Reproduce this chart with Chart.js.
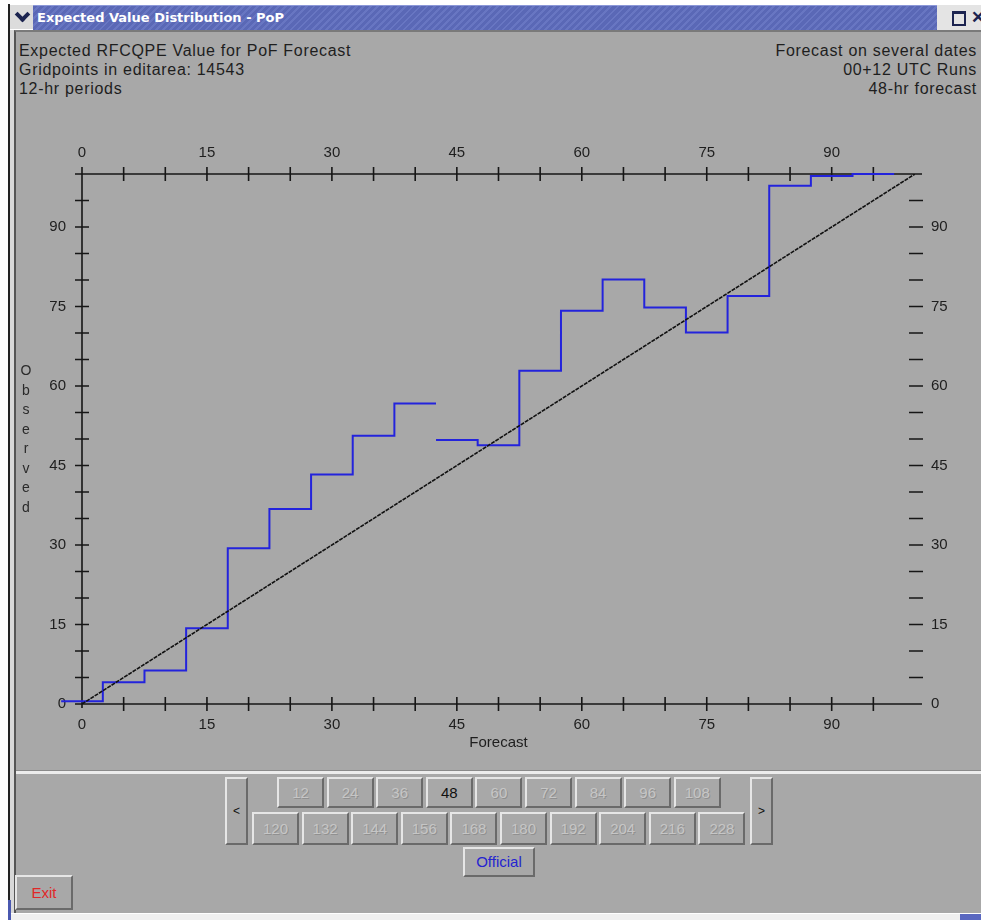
<!DOCTYPE html>
<html>
<head>
<meta charset="utf-8">
<script src="https://cdn.jsdelivr.net/npm/chart.js@4.4.1/dist/chart.umd.min.js"></script>
<style>
  html, body { margin: 0; padding: 0; background: #fff; }
  body { width: 981px; height: 920px; position: relative; overflow: hidden; font-family: "Liberation Sans", Arial, sans-serif; }
  .abs { position: absolute; }
  #frameLine { left: 8px; top: 4px; width: 2px; height: 912px; background: #222; }
  #chev { left: 10px; top: 5px; width: 23px; height: 24px; background: #dcdcdc; }
  #chev i { position: absolute; left: 7px; top: 4px; width: 7px; height: 7px; border-right: 4px solid #1c2450; border-bottom: 4px solid #1c2450; transform: rotate(45deg); }
  #titlebar { left: 33px; top: 5px; width: 904px; height: 24px;
    background: repeating-linear-gradient(135deg, #5a68b6 0px, #5a68b6 3px, #6876c2 3px, #6876c2 5px);
    border-top: 1px solid #8c98d8; }
  #titlebar span { position: absolute; left: 4px; top: 4px; color: #fff; font-family: "DejaVu Sans", sans-serif; font-weight: bold; font-size: 13px; }
  #icons { left: 937px; top: 5px; width: 44px; height: 25px; background: #e4e4e4; }
  #icons .box { position: absolute; left: 15px; top: 6px; width: 10px; height: 10px; border: 2px solid #1c2450; border-top-width: 3px; }
  #icons .x { position: absolute; left: 34px; top: 2px; font-size: 17px; font-weight: bold; color: #1c2450; }
  #panel { left: 14px; top: 30px; width: 967px; height: 884px; background: #a8a8a8; border-left: 2px solid #555; border-top: 2px solid #7a7a7a; }
  #strip { left: 10px; top: 30px; width: 4px; height: 884px; background: #d8d8d8; }
  #sep { left: 16px; top: 770px; width: 965px; height: 3px; background: #ececec; border-top: 1px solid #8a8a8a; }
  #bottomEdge { left: 10px; top: 913px; width: 971px; height: 7px; background: #f0f0f0; border-top: 1px solid #fff; }
  #cornerL { left: 8px; top: 900px; width: 30px; height: 20px; border-left: 3px solid #4a58b0; border-bottom: 3px solid #4a58b0; }
  #cornerR { left: 960px; top: 914px; width: 21px; height: 6px; background: #5a68c0; }
  .hdr { font-size: 16px; color: #1e1e1e; line-height: 19px; letter-spacing: 0.7px; }
  #hdrL { left: 19px; top: 41px; }
  #hdrR { right: 4px; top: 41px; text-align: right; }
  #chartBox { left: 0; top: 110px; width: 981px; height: 650px; }
  #ylab { left: 17px; top: 361px; width: 18px; text-align: center; font-size: 14px; line-height: 19.5px; color: #2a2a2a; }
  .btn { position: absolute; box-sizing: border-box; background: #a8a8a8; border: 2px solid; border-color: #e6e6e6 #6a6a6a #6a6a6a #e6e6e6;
    font-size: 15px; text-align: center; color: #c6c6c6; text-shadow: 1px 1px 0 #909090; }
  .btn.on { color: #111; text-shadow: none; }
</style>
</head>
<body>
<div class="abs" id="strip"></div>
<div class="abs" id="panel"></div>
<div class="abs" id="frameLine"></div>
<div class="abs" id="chev"><i></i></div>
<div class="abs" id="titlebar"><span>Expected Value Distribution - PoP</span></div>
<div class="abs" id="icons"><div class="box"></div><div class="x">&#x2715;</div></div>
<div class="abs hdr" id="hdrL">Expected RFCQPE Value for PoF Forecast<br>Gridpoints in editarea: 14543<br>12-hr periods</div>
<div class="abs hdr" id="hdrR">Forecast on several dates<br>00+12 UTC Runs<br>48-hr forecast</div>
<div class="abs" id="chartBox"><canvas id="evChart" width="981" height="650"></canvas></div>
<div class="abs" id="ylab">O<br>b<br>s<br>e<br>r<br>v<br>e<br>d</div>
<div class="abs" id="sep"></div>
<div id="buttons"></div>
<div class="abs" id="bottomEdge"></div>
<div class="abs" id="cornerL"></div>
<div class="abs" id="cornerR"></div>

<script>
const binCenters = [0, 5, 10, 15, 20, 25, 30, 35, 40, 45, 50, 55, 60, 65, 70, 75, 80, 85, 90, 95];
const observed = [0.5, 4.1, 6.3, 14.3, 29.4, 36.8, 43.3, 50.6, 56.7, 49.8, 48.8, 62.9, 74.2, 80.1, 74.8, 70.1, 77.0, 97.8, 99.6, 100];
const binWidth = 5;
const breakAfter = [40];   // no connector drawn after this bin
const perfectX = [0, 100];
const perfectY = [0, 100];
const xTicks = [0, 15, 30, 45, 60, 75, 90];
const yTicks = [0, 15, 30, 45, 60, 75, 90];
const minorStep = 5;

const periodsRow1 = ['12', '24', '36', '48', '60', '72', '84', '96', '108'];
const periodsRow2 = ['120', '132', '144', '156', '168', '180', '192', '204', '216', '228'];
const activePeriod = '48';

// build the step outline
const stepPoints = [];
binCenters.forEach((c, i) => {
  stepPoints.push({ x: c - binWidth / 2, y: observed[i] });
  stepPoints.push({ x: c + binWidth / 2, y: observed[i] });
  if (breakAfter.includes(c)) stepPoints.push({ x: c + binWidth / 2, y: null });
});

const axesPlugin = {
  id: 'evdAxes',
  beforeDatasetsDraw(chart) {
    const { ctx } = chart;
    const x = chart.scales.x, y = chart.scales.y;
    const l = x.getPixelForValue(0), r = x.getPixelForValue(100);
    const t = y.getPixelForValue(100), b = y.getPixelForValue(0);
    const k = 7;
    ctx.save();
    ctx.strokeStyle = '#161616';
    ctx.lineWidth = 1.6;
    ctx.beginPath();
    ctx.moveTo(l - k, t); ctx.lineTo(r + k, t);
    ctx.moveTo(l - k, b); ctx.lineTo(r + k, b);
    ctx.moveTo(l, t - k); ctx.lineTo(l, b + 4);
    for (let v = minorStep; v < 100; v += minorStep) {
      const px = x.getPixelForValue(v);
      const py = y.getPixelForValue(v);
      ctx.moveTo(px, t - k); ctx.lineTo(px, t + k);
      ctx.moveTo(px, b - k); ctx.lineTo(px, b + k);
      ctx.moveTo(l - k, py); ctx.lineTo(l + k, py);
      ctx.moveTo(r - 6, py); ctx.lineTo(r + 8, py);
    }
    ctx.stroke();
    ctx.restore();
  }
};

function fixSize(w, h) {
  return (scale) => {
    if (w != null) scale.width = w;
    if (h != null) scale.height = h;
  };
}

const tickFont = { family: '"Liberation Sans", Arial, sans-serif', size: 15 };

new Chart(document.getElementById('evChart'), {
  type: 'line',
  data: {
    datasets: [
      {
        data: perfectX.map((v, i) => ({ x: v, y: perfectY[i] })),
        borderColor: '#111',
        borderWidth: 1.6,
        borderDash: [4, 1],
        pointRadius: 0
      },
      {
        data: stepPoints,
        borderColor: '#2323dc',
        borderWidth: 2,
        pointRadius: 0,
        spanGaps: false,
        clip: false
      }
    ]
  },
  options: {
    responsive: false,
    animation: false,
    events: [],
    layout: { padding: 0 },
    plugins: { legend: { display: false }, tooltip: { enabled: false } },
    scales: {
      x: {
        type: 'linear', position: 'bottom', min: 0, max: 100,
        afterBuildTicks: (s) => { s.ticks = xTicks.map(v => ({ value: v })); },
        afterFit: fixSize(null, 56),
        grid: { display: false, drawTicks: true, tickLength: 8 },
        border: { display: false },
        ticks: { color: '#1e1e1e', font: tickFont, padding: 4, maxRotation: 0, autoSkip: false },
        title: { display: true, text: 'Forecast', color: '#1e1e1e', font: tickFont, padding: { top: 0, bottom: 8 } }
      },
      x2: {
        type: 'linear', position: 'top', min: 0, max: 100,
        afterBuildTicks: (s) => { s.ticks = xTicks.map(v => ({ value: v })); },
        afterFit: fixSize(null, 64),
        grid: { display: false, drawTicks: true, tickLength: 8 },
        border: { display: false },
        ticks: { color: '#1e1e1e', font: tickFont, padding: 4, maxRotation: 0, autoSkip: false }
      },
      y: {
        type: 'linear', position: 'left', min: 0, max: 100,
        afterBuildTicks: (s) => { s.ticks = yTicks.map(v => ({ value: v })); },
        afterFit: fixSize(82, null),
        grid: { display: false, drawTicks: true, tickLength: 8 },
        border: { display: false },
        ticks: { color: '#1e1e1e', font: tickFont, padding: 8, autoSkip: false }
      },
      y2: {
        type: 'linear', position: 'right', min: 0, max: 100,
        afterBuildTicks: (s) => { s.ticks = yTicks.map(v => ({ value: v })); },
        afterFit: fixSize(66, null),
        grid: { display: false, drawTicks: true, tickLength: 8 },
        border: { display: false },
        ticks: { color: '#1e1e1e', font: tickFont, padding: 8, autoSkip: false }
      }
    }
  },
  plugins: [axesPlugin]
});

// period selector buttons
const btnBox = document.getElementById('buttons');
function addBtn(label, left, top, w, h, cls) {
  const b = document.createElement('div');
  b.className = 'btn' + (cls ? ' ' + cls : '');
  b.style.left = left + 'px';
  b.style.top = top + 'px';
  b.style.width = w + 'px';
  b.style.height = h + 'px';
  b.style.lineHeight = (h - 4) + 'px';
  b.textContent = label;
  btnBox.appendChild(b);
  return b;
}
addBtn('<', 225, 777, 23, 68, 'on').style.fontSize = '12px';
addBtn('>', 750, 777, 23, 68, 'on').style.fontSize = '12px';
periodsRow1.forEach((p, i) => addBtn(p, 277 + i * 49.6, 777, 47, 31, p === activePeriod ? 'on' : ''));
periodsRow2.forEach((p, i) => addBtn(p, 252 + i * 49.6, 812, 47, 33, ''));
addBtn('Official', 463, 847, 72, 30, 'on').style.color = '#2424d0';
addBtn('Exit', 15, 875, 58, 35, 'on').style.color = '#e02828';
</script>
</body>
</html>
